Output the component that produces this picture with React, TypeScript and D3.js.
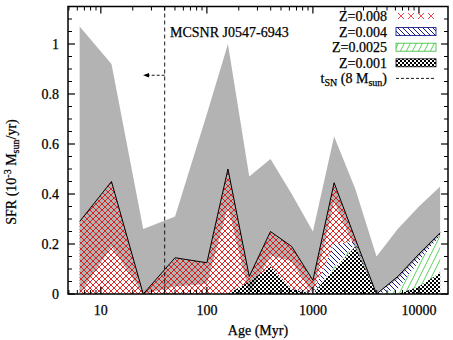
import React from 'react';
import * as d3 from 'd3';

// age bins (Myr) and star formation rate per metallicity (1e-3 Msun/yr)
const AGES = [6.31, 12.6, 25.1, 50.1, 100, 158, 251, 398, 631, 1000, 1585, 2512, 3981, 6310, 10000, 15849];
const Z001 = [0, 0, 0, 0, 0, 0, 0.05, 0.11, 0.02, 0, 0.1, 0.19, 0, 0, 0.03, 0.085];
const Z0025 = [0, 0, 0, 0, 0, 0, 0, 0, 0, 0, 0.01, 0.01, 0, 0.02, 0.1, 0.15];
const Z004 = [0, 0, 0, 0, 0, 0, 0, 0, 0, 0.005, 0.09, 0.01, 0, 0.05, 0.03, 0.01];
const Z008 = [0.29, 0.45, 0, 0.145, 0.125, 0.5, 0.02, 0.14, 0.17, 0.05, 0.245, 0.01, 0, 0, 0, 0];
// error envelope of the total
const ERR_HI = [1.07, 0.92, 0.26, 0.31, 0.72, 1.0, 0.47, 0.54, 0.4, 0.25, 0.63, 0.42, 0.15, 0.26, 0.35, 0.43];
const ERR_LO = [0, 0.19, 0, 0.03, 0.04, 0.35, 0, 0.155, 0.13, 0, 0.37, 0.18, 0, 0.06, 0.15, 0.235];

const X_TICKS = [10, 100, 1000, 10000];
const Y_TICKS = [0, 0.2, 0.4, 0.6, 0.8, 1];
const T_SN = 40;
const ARROW_TO = 25;
const ARROW_Y = 0.875;

const LEGEND = [
  { label: 'Z=0.008', fill: 'url(#legRed)', stroke: 'none' },
  { label: 'Z=0.004', fill: 'url(#hatchBlue)', stroke: '#000080' },
  { label: 'Z=0.0025', fill: 'url(#hatchGreen)', stroke: '#33bb33' },
  { label: 'Z=0.001', fill: 'url(#checker)', stroke: '#000' },
];

const W = 453;
const H = 340;
const m = { left: 68, right: 448, top: 6.5, bottom: 294 };
const txt = { fontFamily: 'Liberation Serif, DejaVu Serif, serif', fontSize: 14, stroke: '#000', strokeWidth: 0.25 };

export default function App() {
  const x = d3.scaleLog().domain([4.9, 18800]).range([m.left, m.right]);
  const y = d3.scaleLinear().domain([0, 1.15]).range([m.bottom, m.top]);

  const rows = AGES.map((a, i) => ({ age: a, z001: Z001[i], z0025: Z0025[i], z004: Z004[i], z008: Z008[i] }));
  const stack = d3.stack<any>().keys(['z001', 'z0025', 'z004', 'z008'])(rows);
  const fills = ['url(#checker)', 'url(#hatchGreen)', 'url(#hatchBlue)', 'url(#crossRed)'];

  const band = d3.area<number>()
    .x((_, i) => x(AGES[i]))
    .y0((_, i) => y(ERR_LO[i]))
    .y1((_, i) => y(ERR_HI[i]));

  const layer = d3.area<any>()
    .x((d) => x(d.data.age))
    .y0((d) => y(d[0]))
    .y1((d) => y(d[1]));

  const totalLine = d3.line<any>()
    .x((d) => x(d.data.age))
    .y((d) => y(d[1]));

  // minor ticks on the log axis
  const xMinor: number[] = [];
  for (let dec = 1; dec <= 10000; dec *= 10) {
    for (let k = 2; k < 10; k++) {
      const v = k * dec;
      if (v >= 5 && v <= 18800) xMinor.push(v);
    }
  }
  const yMinor = d3.range(0, 1.13, 0.05).filter((v) => Math.abs(v * 5 - Math.round(v * 5)) > 1e-6);

  const major = 7;
  const minor = 4;
  const legY = (i: number) => 16 + i * 15.6;

  return (
    <svg width={W} height={H} style={{ position: 'absolute', left: 0, top: 0, background: '#fff' }}>
      <defs>
        <pattern id="crossRed" patternUnits="userSpaceOnUse" width={6} height={6}>
          <path d="M0,0L6,6M0,6L6,0" stroke="#dd1111" strokeWidth={0.9} />
        </pattern>
        <pattern id="legRed" patternUnits="userSpaceOnUse" width={10} height={8} x={396} y={legY(0) - 4}>
          <path d="M2,1L8,7M2,7L8,1" stroke="#e33" strokeWidth={0.9} />
        </pattern>
        <pattern id="hatchBlue" patternUnits="userSpaceOnUse" width={5} height={5}>
          <path d="M-1,-1L6,6M-1,4L1,6M4,-1L6,1" stroke="#000080" strokeWidth={0.9} />
        </pattern>
        <pattern id="hatchGreen" patternUnits="userSpaceOnUse" width={6} height={12}>
          <path d="M0,12L6,0M-1,2L1,-2M5,14L7,10" stroke="#44cc44" strokeWidth={0.9} />
        </pattern>
        <pattern id="checker" patternUnits="userSpaceOnUse" width={4} height={4}>
          <rect x={0} y={0} width={2} height={2} fill="#000" />
          <rect x={2} y={2} width={2} height={2} fill="#000" />
        </pattern>
        <clipPath id="plotClip">
          <rect x={m.left} y={m.top} width={m.right - m.left} height={m.bottom - m.top} />
        </clipPath>
      </defs>

      <g clipPath="url(#plotClip)">
        <path d={band(ERR_HI) || ''} fill="#b3b3b3" />
        {stack.map((s, i) => (
          <path key={i} d={layer(s as any) || ''} fill={fills[i]} />
        ))}
        <path d={totalLine(stack[3] as any) || ''} fill="none" stroke="#000" strokeWidth={1} />
      </g>

      {/* t_SN marker */}
      <line x1={x(T_SN)} x2={x(T_SN)} y1={m.top} y2={m.bottom} stroke="#000" strokeWidth={0.9} strokeDasharray="4,3" />
      <line x1={x(T_SN)} x2={x(ARROW_TO) + 4} y1={y(ARROW_Y)} y2={y(ARROW_Y)} stroke="#000" strokeWidth={0.9} strokeDasharray="3,2" />
      <path d={`M${x(ARROW_TO)},${y(ARROW_Y)}l6,-2.2l0,4.4z`} fill="#000" />
      <text x={170} y={37} style={txt}>MCSNR J0547-6943</text>

      {/* frame */}
      <rect x={m.left} y={m.top} width={m.right - m.left} height={m.bottom - m.top} fill="none" stroke="#000" strokeWidth={1.5} />

      {/* x ticks */}
      {X_TICKS.map((t) => (
        <g key={t}>
          <line x1={x(t)} x2={x(t)} y1={m.bottom} y2={m.bottom - major} stroke="#000" strokeWidth={1.2} />
          <line x1={x(t)} x2={x(t)} y1={m.top} y2={m.top + major} stroke="#000" strokeWidth={1.2} />
          <text x={x(t)} y={315} textAnchor="middle" style={txt}>{t}</text>
        </g>
      ))}
      {xMinor.map((t) => (
        <g key={'m' + t}>
          <line x1={x(t)} x2={x(t)} y1={m.bottom} y2={m.bottom - minor} stroke="#000" strokeWidth={1} />
          <line x1={x(t)} x2={x(t)} y1={m.top} y2={m.top + minor} stroke="#000" strokeWidth={1} />
        </g>
      ))}

      {/* y ticks */}
      {Y_TICKS.map((t) => (
        <g key={t}>
          <line x1={m.left} x2={m.left + major} y1={y(t)} y2={y(t)} stroke="#000" strokeWidth={1.2} />
          <line x1={m.right} x2={m.right - major} y1={y(t)} y2={y(t)} stroke="#000" strokeWidth={1.2} />
          <text x={59} y={y(t) + 5} textAnchor="end" style={txt}>{String(t)}</text>
        </g>
      ))}
      {yMinor.map((t) => (
        <g key={'m' + t}>
          <line x1={m.left} x2={m.left + minor} y1={y(t)} y2={y(t)} stroke="#000" strokeWidth={1} />
          <line x1={m.right} x2={m.right - minor} y1={y(t)} y2={y(t)} stroke="#000" strokeWidth={1} />
        </g>
      ))}

      {/* axis titles */}
      <text x={(m.left + m.right) / 2} y={335} textAnchor="middle" style={txt}>Age (Myr)</text>
      <text transform="translate(16,172) rotate(-90)" textAnchor="middle" style={txt}>
        SFR (10<tspan dy={-5} fontSize={10}>-3</tspan><tspan dy={5}> M</tspan>
        <tspan dy={3} fontSize={10}>sun</tspan><tspan dy={-3}>/yr)</tspan>
      </text>

      {/* legend */}
      {LEGEND.map((l, i) => (
        <g key={l.label}>
          <text x={387} y={legY(i) + 5} textAnchor="end" style={txt}>{l.label}</text>
          <rect x={396} y={legY(i) - 4} width={40} height={8} fill={l.fill} stroke={l.stroke} strokeWidth={0.8} />
        </g>
      ))}
      <text x={387} y={legY(4) + 5} textAnchor="end" style={txt}>
        t<tspan dy={3} fontSize={10}>SN</tspan><tspan dy={-3}> (8 M</tspan>
        <tspan dy={3} fontSize={10}>sun</tspan><tspan dy={-3}>)</tspan>
      </text>
      <line x1={396} x2={436} y1={legY(4)} y2={legY(4)} stroke="#000" strokeWidth={0.9} strokeDasharray="3,2" />
    </svg>
  );
}
